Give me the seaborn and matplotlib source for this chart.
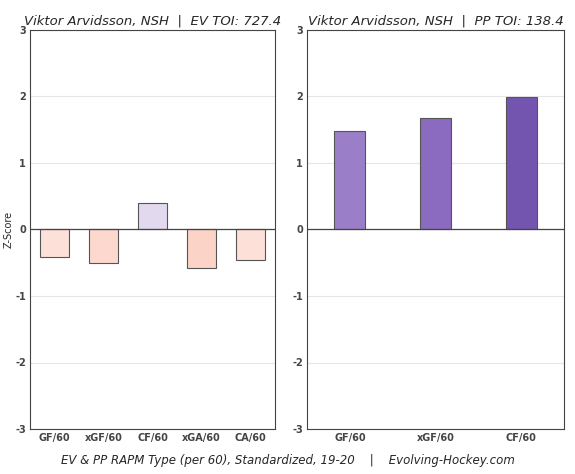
import matplotlib
matplotlib.use("Agg")
import matplotlib.pyplot as plt
import seaborn as sns
import pandas as pd

ev_labels = ["GF/60", "xGF/60", "CF/60", "xGA/60", "CA/60"]
ev_values = [-0.42, -0.51, 0.40, -0.58, -0.46]
ev_colors = ["#fde0d8", "#fdd8cf", "#e2d9ee", "#fcd3c7", "#fde0d8"]
pp_labels = ["GF/60", "xGF/60", "CF/60"]
pp_values = [1.48, 1.68, 1.99]
pp_colors = ["#9a7fc8", "#8b6bbf", "#7355b0"]

sns.set_style("white")
plt.rcParams["axes.unicode_minus"] = False
fig = plt.figure(figsize=(5.75, 4.74), dpi=100)
ax1 = fig.add_axes([30/575, 45/474, 245/575, 399/474])
ax2 = fig.add_axes([307/575, 45/474, 257/575, 399/474])

def draw(ax, labels, values, colors, title, width):
    df = pd.DataFrame({"k": labels, "v": values})
    sns.barplot(data=df, x="k", y="v", hue="k", palette=colors, legend=False,
                saturation=1, width=width, edgecolor="#555555", linewidth=0.8, ax=ax)
    ax.set_ylim(-3, 3)
    ax.set_yticks(range(-3, 4))
    ax.grid(axis="y", color="#e6e6e6", linewidth=0.8)
    ax.set_axisbelow(True)
    ax.axhline(0, color="#444444", linewidth=0.9)
    ax.set_xlabel("")
    ax.set_ylabel("")
    ax.tick_params(labelsize=7, length=0, pad=3)
    for t in ax.get_xticklabels() + ax.get_yticklabels():
        t.set_fontweight("bold")
        t.set_color("#444444")
    for s in ax.spines.values():
        s.set_color("#444444")
        s.set_linewidth(0.8)
    ax.set_title(title, style="italic", fontsize=9.5, pad=4)

draw(ax1, ev_labels, ev_values, ev_colors, "Viktor Arvidsson, NSH  |  EV TOI: 727.4", 0.6)
draw(ax2, pp_labels, pp_values, pp_colors, "Viktor Arvidsson, NSH  |  PP TOI: 138.4", 0.36)
ax1.set_ylabel("Z-Score", fontsize=7, labelpad=1)
fig.text(0.5, 0.022, "EV & PP RAPM Type (per 60), Standardized, 19-20    |    Evolving-Hockey.com",
         ha="center", style="italic", fontsize=8.5)
fig.savefig("out.png", dpi=100)
